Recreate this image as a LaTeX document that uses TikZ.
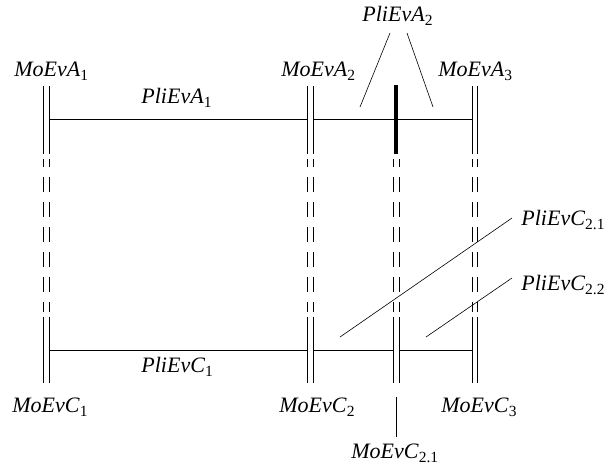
\documentclass[tikz,border=0pt]{standalone}
\usepackage{fontspec}
\setmainfont{Liberation Serif}
\usetikzlibrary{positioning}
\newcommand{\evlab}[2]{\textit{#1}\raisebox{-0.22em}{\fontsize{15.5}{15.5}\selectfont #2}}

\begin{document}
\begin{tikzpicture}[x=1pt,y=-1pt,line width=0.8pt]
        \tikzstyle{lab} = [font=\fontsize{22}{25}\selectfont, inner sep=0pt, anchor=base west]
        \tikzstyle{cut} = [dash pattern=on 15pt off 10pt, dash phase=7pt]
        \tikzstyle{leader} = [line width=0.6pt]
        \useasboundingbox (0,0) rectangle (612,469);

        % moments: solid, cut, solid
        \foreach \x in {43,49,307,313,472,477}{
          \draw (\x,86) -- (\x,154);
        }
        \foreach \x in {43,49,307,313,393,399,472,477}{
          \draw[cut] (\x,159) -- (\x,312);
          \draw (\x,317) -- (\x,383);
        }
        \draw[line width=4pt] (396,85) -- (396,154);

        % coordinates on the time lines
        \coordinate (a1) at (49,119);
        \coordinate (a2l) at (307,119);
        \coordinate (a2r) at (313,119);
        \coordinate (a3) at (472,119);
        \coordinate (c1) at (49,350);
        \coordinate (c2l) at (307,350);
        \coordinate (c2r) at (313,350);
        \coordinate (c21l) at (393,350);
        \coordinate (c21r) at (399,350);
        \coordinate (c3) at (472,350);

        \draw (a1) -- (a2l);
        \draw (a2r) -- (a3);
        \draw (c1) -- (c2l);
        \draw (c2r) -- (c21l);
        \draw (c21r) -- (c3);

        % labels
        \node[lab] (mea1) at (14,76) {\evlab{MoEvA}{1}};
        \node[lab] (mea2) at (281,76) {\evlab{MoEvA}{2}};
        \node[lab] (mea3) at (438,76) {\evlab{MoEvA}{3}};
        \node[lab] (pea1) at (141,103) {\evlab{PliEvA}{1}};
        \node[lab] (pea2) at (362,21) {\evlab{PliEvA}{2}};
        \node[lab] (pec1) at (141,372) {\evlab{PliEvC}{1}};
        \node[lab] (pec21) at (521,225) {\evlab{PliEvC}{2.1}};
        \node[lab] (pec22) at (521,290) {\evlab{PliEvC}{2.2}};
        \node[lab] (mec1) at (12,412) {\evlab{MoEvC}{1}};
        \node[lab] (mec2) at (279,412) {\evlab{MoEvC}{2}};
        \node[lab] (mec3) at (441,412) {\evlab{MoEvC}{3}};
        \node[lab] (mec21) at (351,458) {\evlab{MoEvC}{2.1}};

        % leaders
        \coordinate (pea2a) at (390,33);
        \coordinate (pea2b) at (407,33);
        \coordinate (pea2l) at (360,107);
        \coordinate (pea2r) at (433,107);
        \coordinate (pec21a) at (512,218);
        \coordinate (pec21b) at (340,337);
        \coordinate (pec22a) at (512,278);
        \coordinate (pec22b) at (426,337);
        \coordinate (mec21a) at (396,397);
        \coordinate (mec21b) at (396,437);
        \draw[leader] (pea2a) -- (pea2l);
        \draw[leader] (pea2b) -- (pea2r);
        \draw[leader] (pec21a) -- (pec21b);
        \draw[leader] (pec22a) -- (pec22b);
        \draw[leader] (mec21a) -- (mec21b);
\end{tikzpicture}
\end{document}
